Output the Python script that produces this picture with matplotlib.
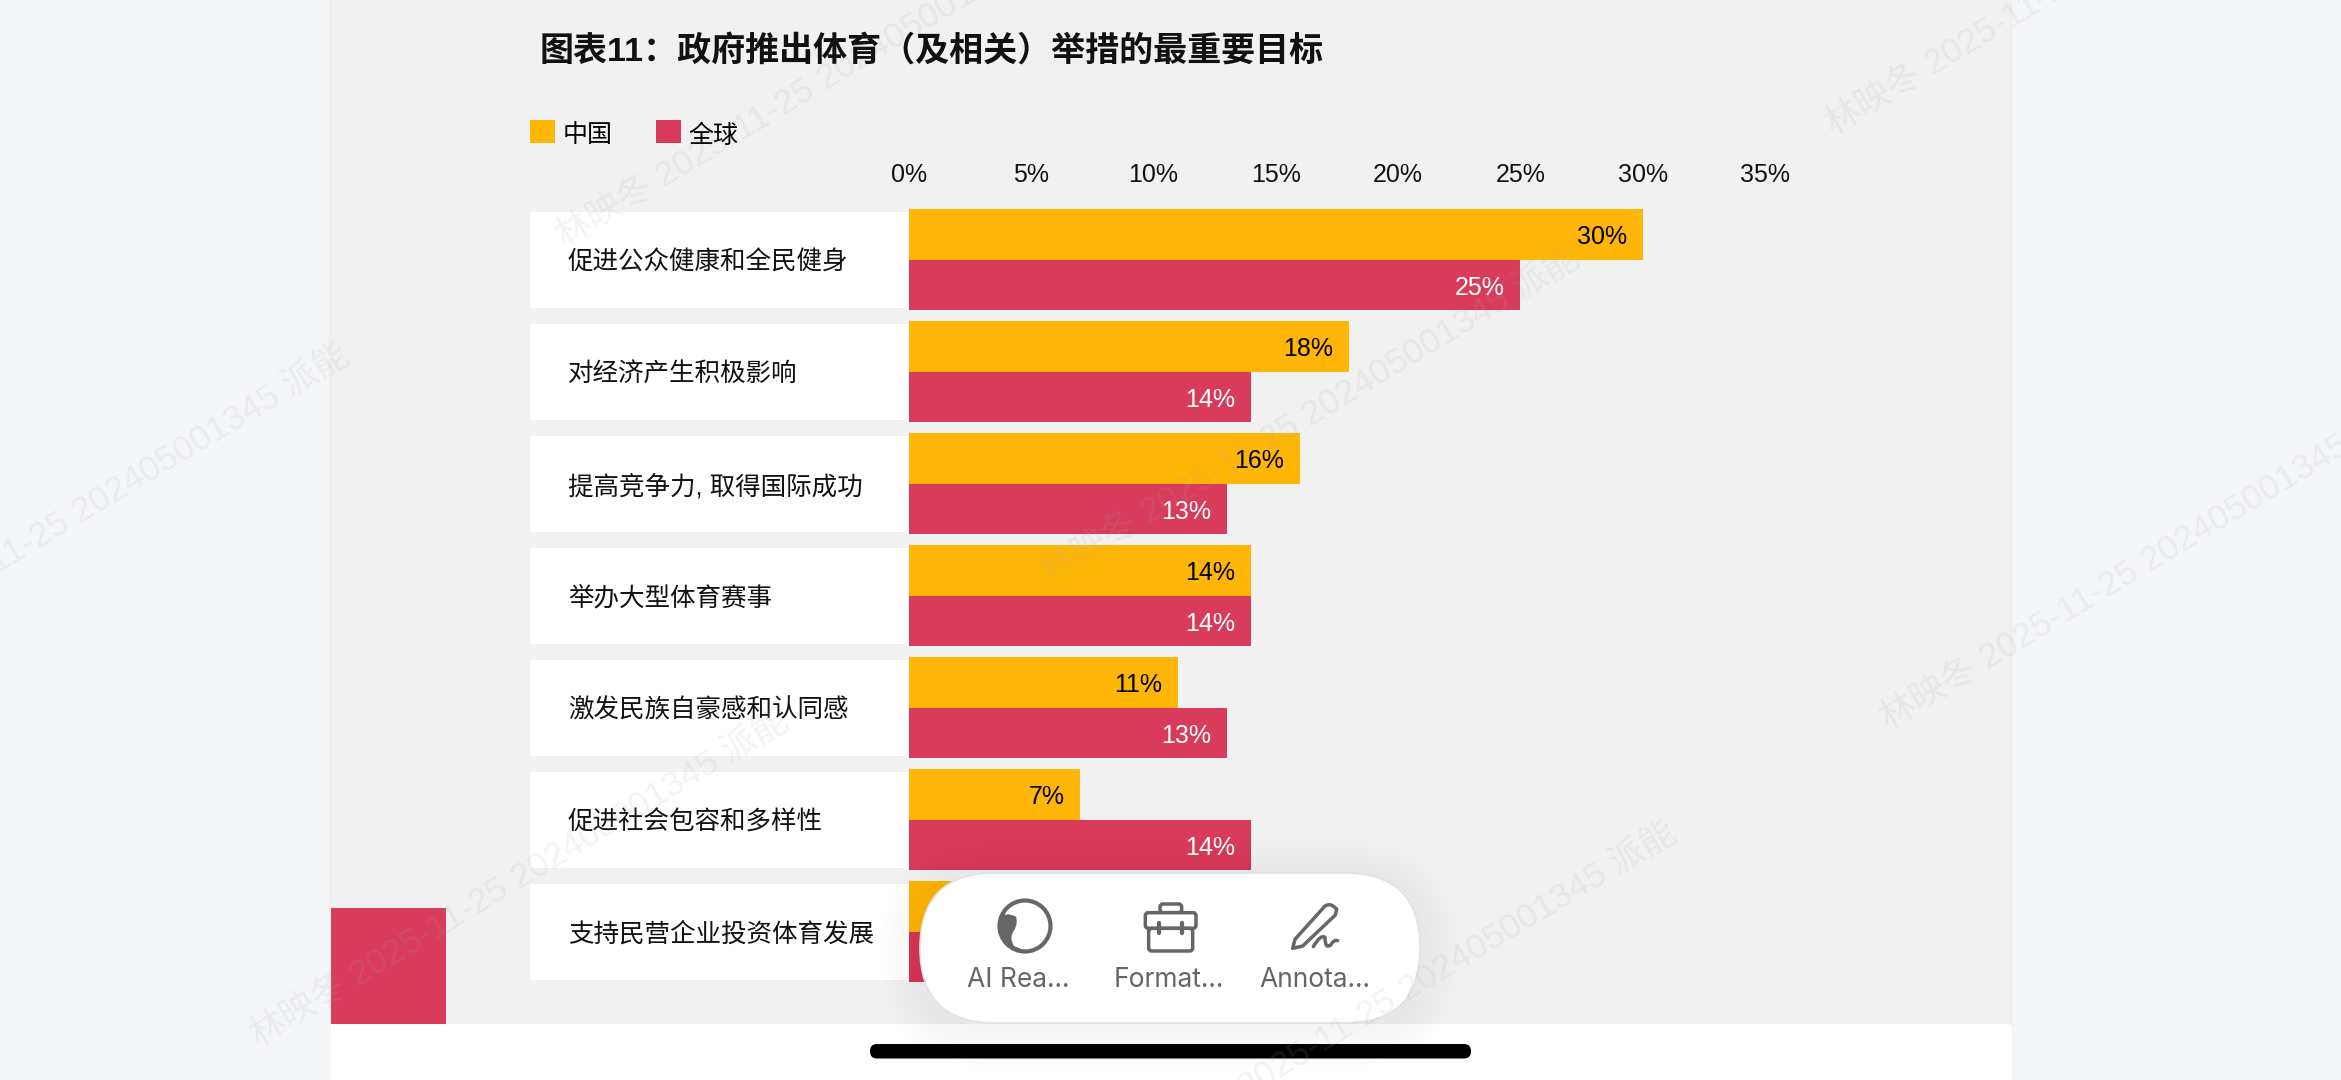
"""
Bar chart of the most important goals behind government sport initiatives,
China vs. global, shown on a document page in a phone reader.

Saves out.png next to this file.
"""

import matplotlib
matplotlib.use("Agg")
import matplotlib.pyplot as plt
from matplotlib.patches import Rectangle, FancyBboxPatch, Ellipse, PathPatch, Circle
from matplotlib.path import Path as MplPath

W, H = 2341, 1080
FONTS = ["Liberation Sans", "Noto Sans CJK SC", "DejaVu Sans"]
plt.rcParams["font.family"] = FONTS

# ---------------------------------------------------------------------------
# Data
# ---------------------------------------------------------------------------

CATEGORIES = [
    "促进公众健康和全民健身",
    "对经济产生积极影响",
    "提高竞争力, 取得国际成功",
    "举办大型体育赛事",
    "激发民族自豪感和认同感",
    "促进社会包容和多样性",
    "支持民营企业投资体育发展",
]
CHINA = [30, 18, 16, 14, 11, 7, 3]
GLOBAL = [25, 14, 13, 14, 13, 14, 5]
XTICKS = [0, 5, 10, 15, 20, 25, 30, 35]
SERIES_NAMES = ["中国", "全球"]
TITLE = "图表11：政府推出体育（及相关）举措的最重要目标"
TOOLBAR_LABELS = ["AI Rea...", "Format...", "Annota..."]
WATERMARK = "林映冬 2025-11-25 202405001345 派能"

YELLOW = "#FFB607"
RED = "#D83C5A"
PAGE = "#F1F1F1"
OUTSIDE = "#F4F5F7"
GREY = "#666666"

fig = plt.figure(figsize=(W / 100, H / 100), dpi=100, facecolor=OUTSIDE)

# Page furniture is placed in pixel coordinates on a full-figure axes
bg = fig.add_axes([0, 0, 1, 1], zorder=0)
bg.set_xlim(0, W)
bg.set_ylim(H, 0)
bg.axis("off")
bg.add_patch(Rectangle((331, 0), 1681, 1024, fc=PAGE, ec="none"))
bg.add_patch(Rectangle((331, 1024), 1681, 56, fc="white", ec="none"))
bg.add_patch(Rectangle((331, 908), 115, 116, fc=RED, ec="none"))
for x in (330, 2011):
    bg.plot([x, x], [0, 1024], color="#EDEDED", lw=1.5)

# ---------------------------------------------------------------------------
# Chart
# ---------------------------------------------------------------------------

# One category is 112 px tall, one percent is 24.46 px wide
ax = fig.add_axes([530 / W, 1 - 987.7 / H, (1765 - 530) / W, 784 / H], zorder=1)
ax.patch.set_alpha(0)
ax.set_xlim(-15.5, 35)
ax.set_ylim(6.5, -0.5)
for spine in ax.spines.values():
    spine.set_visible(False)

bar_h = 50.7 / 112
rows = list(range(len(CATEGORIES)))

# White label plates left of the zero line
ax.barh(rows, [15.5] * len(rows), left=-15.5, height=0.858, color="white", zorder=1)
ax.barh([r - bar_h / 2 for r in rows], CHINA, height=bar_h, color=YELLOW, zorder=2,
        label=SERIES_NAMES[0])
ax.barh([r + bar_h / 2 for r in rows], GLOBAL, height=bar_h, color=RED, zorder=2,
        label=SERIES_NAMES[1])

for r, name, cn, gl in zip(rows, CATEGORIES, CHINA, GLOBAL):
    ax.text(-13.95, r + 0.025, name, ha="left", va="center", fontsize=18.4, color="#111111", zorder=3)
    ax.annotate(f"{cn}%", (cn, r - bar_h / 2), xytext=(-11.5, -2), textcoords="offset points",
                ha="right", va="center", fontsize=18, color="black", zorder=3)
    ax.annotate(f"{gl}%", (gl, r + bar_h / 2), xytext=(-11.5, -2), textcoords="offset points",
                ha="right", va="center", fontsize=18, color="white", zorder=3)

ax.xaxis.tick_top()
ax.set_xticks(XTICKS)
ax.set_xticklabels([f"{t}%" for t in XTICKS], fontsize=18, color="#111111")
ax.tick_params(axis="x", length=0, pad=11.8)
ax.set_yticks([])

legend = ax.legend(loc="lower left", bbox_to_anchor=(530 / W, 1 - 145 / H), bbox_transform=fig.transFigure,
                   ncols=2, frameon=False, fontsize=18, borderpad=0, borderaxespad=0,
                   handlelength=1.0, handleheight=1.0, handletextpad=0.3, columnspacing=1.74)
for t in legend.get_texts():
    t.set_position((0, -2.5))

fig.text(540 / W, 1 - 51 / H, TITLE, fontsize=24.5, fontweight="bold", color="#111111",
         ha="left", va="center")

# ---------------------------------------------------------------------------
# Reader overlay: toolbar, home indicator and watermarks
# ---------------------------------------------------------------------------

top = fig.add_axes([0, 0, 1, 1], zorder=2)
top.set_xlim(0, W)
top.set_ylim(H, 0)
top.axis("off")
top.patch.set_alpha(0)

# Soft shadow built from stacked translucent pills
for grow in range(40, 0, -4):
    top.add_patch(FancyBboxPatch((995, 954), 350, 0,
                                 boxstyle=f"round,pad={75 + grow},rounding_size={75 + grow}",
                                 fc="black", ec="none", alpha=0.005))
top.add_patch(FancyBboxPatch((995, 948), 350, 0, boxstyle="round,pad=75,rounding_size=75",
                             fc="white", ec="#E2E2E2", lw=1.2))


def icon_xy(points):
    # Icon outlines are written on a 3x grid anchored at the toolbar corner
    return [(910 + x / 3, 860 + y / 3) for x, y in points]


# AI reader icon: ring with a comma-shaped fill on its left side
top.add_patch(Ellipse((1025, 926), 51, 51, fc="none", ec=GREY, lw=3))
ring_clip = Circle((1025, 926), 26, transform=top.transData)
blob = MplPath(
    icon_xy([(268, 172), (290, 155), (318, 170), (325, 190), (312, 212), (296, 232), (312, 258), (345, 272),
             (262, 272), (262, 172)]),
    [MplPath.MOVETO, MplPath.CURVE3, MplPath.CURVE3, MplPath.CURVE3, MplPath.CURVE3,
     MplPath.CURVE3, MplPath.CURVE3, MplPath.LINETO, MplPath.LINETO, MplPath.CLOSEPOLY],
)
blob_patch = PathPatch(blob, fc=GREY, ec="none")
top.add_patch(blob_patch)
blob_patch.set_clip_path(ring_clip)

# Briefcase icon
case_lw = 2.5
for (x0, y0), (x1, y1), rad in [((750, 132), (815, 158), 3), ((706, 158), (858, 205), 3),
                                ((716, 205), (848, 273), 3)]:
    (px0, py0), (px1, py1) = icon_xy([(x0, y0), (x1, y1)])
    top.add_patch(FancyBboxPatch((px0, py0), px1 - px0, py1 - py0,
                                 boxstyle=f"round,pad=0,rounding_size={rad}",
                                 fc="white", ec=GREY, lw=case_lw))
for x in (748, 815):
    (px0, py0), (px1, py1) = icon_xy([(x, 190), (x, 218)])
    top.plot([px0, px1], [py0, py1], color=GREY, lw=case_lw + 0.6, solid_capstyle="round")

# Pencil and signature icon
pen = MplPath(
    icon_xy([(1148, 265), (1155, 238), (1245, 138), (1262, 126), (1280, 148), (1276, 165),
             (1178, 258), (1148, 265)]),
    [MplPath.MOVETO, MplPath.LINETO, MplPath.LINETO, MplPath.CURVE3, MplPath.CURVE3,
     MplPath.LINETO, MplPath.LINETO, MplPath.CLOSEPOLY],
)
top.add_patch(PathPatch(pen, fc="none", ec=GREY, lw=case_lw, joinstyle="round"))
squiggle = MplPath(
    icon_xy([(1210, 260), (1232, 222), (1245, 232), (1245, 268), (1262, 255), (1272, 238), (1283, 242)]),
    [MplPath.MOVETO] + [MplPath.CURVE3] * 6,
)
top.add_patch(PathPatch(squiggle, fc="none", ec=GREY, lw=case_lw, capstyle="round"))

for x, label in zip([1018, 1169, 1315], TOOLBAR_LABELS):
    top.text(x, 980, label, fontsize=19, color=GREY, ha="center", va="center",
             family=["Inter", "DejaVu Sans"])

top.add_patch(FancyBboxPatch((877, 1051), 587, 0.5, boxstyle="round,pad=7,rounding_size=7",
                             fc="black", ec="none"))

for x, y in [(-185, 672), (560, 239), (1045, 575), (254, 1038), (1142, 1150),
             (1829, 127), (1884, 721)]:
    top.text(x, y, WATERMARK, fontsize=25.5, color="#A8A8A8", alpha=0.13, rotation=31,
             rotation_mode="anchor", ha="left", va="center", clip_on=True)

fig.savefig("out.png", dpi=100)
